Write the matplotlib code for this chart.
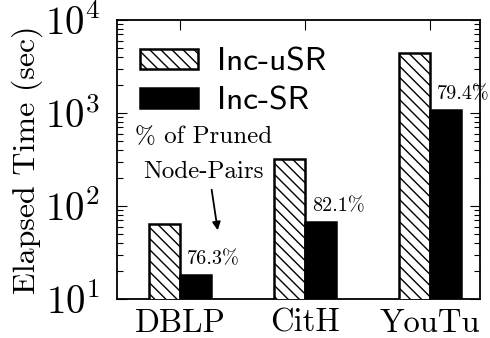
import matplotlib
matplotlib.use("Agg")
import matplotlib.pyplot as plt
import numpy as np

datasets = ["DBLP", "CitH", "YouTu"]
inc_usr = [64, 320, 4400]
inc_sr = [18, 67, 1080]
pruned = ["76.3%", "82.1%", "79.4%"]
yticks = [1e1, 1e2, 1e3, 1e4]

plt.rcParams["font.family"] = "serif"
plt.rcParams["font.serif"] = ["cmr10"]
plt.rcParams["mathtext.fontset"] = "cm"
plt.rcParams["axes.formatter.use_mathtext"] = True
plt.rcParams["hatch.linewidth"] = 1.0

fig = plt.figure(figsize=(4.9, 3.38), dpi=100)
ax = fig.add_axes([117/490, 1-299/338, 363/490, 279/338])

x = np.arange(len(datasets))
w = 0.245
ax.bar(x - w/2, inc_usr, w, color="white", edgecolor="black", linewidth=1.8,
       hatch="\\\\\\", label="Inc-uSR", zorder=3)
ax.bar(x + w/2, inc_sr, w, color="black", edgecolor="black", linewidth=1.8,
       label="Inc-SR", zorder=3)

for i in range(len(datasets)):
    ax.annotate(pruned[i], (x[i] + 0.056, inc_sr[i]), xytext=(0, 5),
                textcoords="offset points", ha="left", va="bottom",
                fontsize=14.5, annotation_clip=False)

ax.text(0.19, 10**(1 + (299-137)/93), "% of Pruned", ha="center", va="center", fontsize=18)
ax.text(0.19, 10**(1 + (299-172)/93), "Node-Pairs", ha="center", va="center", fontsize=18)
ax.annotate("", xy=(0.305, 10**(1 + (299-233)/93)), xytext=(0.25, 10**(1 + (299-187)/93)),
            arrowprops=dict(arrowstyle="-|>", color="black", lw=1.3, mutation_scale=12))

ax.set_yscale("log")
ax.set_ylim(10, 10**4)
ax.set_yticks(yticks)
ax.yaxis.set_minor_locator(matplotlib.ticker.LogLocator(base=10, subs=np.arange(2, 10), numticks=20))
ax.set_xlim(-0.504, 2.4)
ax.set_xticks(x)
ax.set_xticklabels(datasets, fontsize=23.5)
ax.set_ylabel("Elapsed Time (sec)", fontsize=23, labelpad=1)
ax.tick_params(axis="y", which="major", labelsize=28)
ax.tick_params(which="both", direction="in", top=True, right=True)
ax.tick_params(which="major", length=7, width=0.8)
ax.tick_params(which="minor", length=4, width=0.8)
ax.tick_params(axis="y", which="major", pad=12)
ax.tick_params(axis="x", which="major", pad=7)
for s in ax.spines.values():
    s.set_linewidth(1.3)

ax.legend(loc="upper left", frameon=False, prop={"family": "cmss10", "size": 24},
          handlelength=1.74, handleheight=0.57, handletextpad=0.57, labelspacing=0.3,
          borderpad=0, borderaxespad=0, bbox_to_anchor=(0.063, 0.90))

fig.savefig("out.png", dpi=100)
